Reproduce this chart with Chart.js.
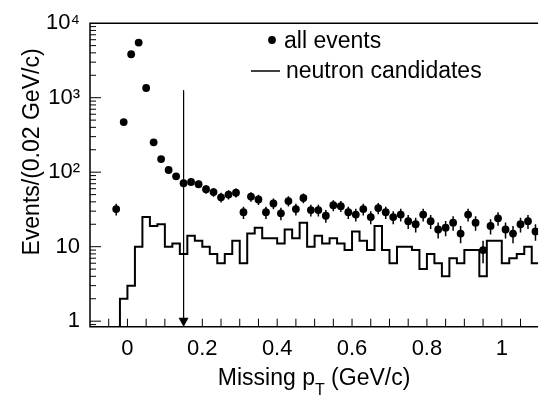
<!DOCTYPE html>
<html>
<head>
<meta charset="utf-8">
<script src="https://cdn.jsdelivr.net/npm/chart.js@4.4.0/dist/chart.umd.min.js"></script>
<style>
  html, body { margin: 0; padding: 0; background: #fff; overflow: hidden; }
</style>
</head>
<body>
<canvas id="chart" width="542" height="400"></canvas>
<script>
/* ----------- DATA ----------------------------------------------- */
// all events: bin centres (GeV/c), counts per 0.02 GeV/c, stat. errors
const binCentres = [-0.03, -0.01, 0.01, 0.03, 0.05, 0.07, 0.09, 0.11, 0.13, 0.15,
  0.17, 0.19, 0.21, 0.23, 0.25, 0.27, 0.29, 0.31, 0.33, 0.35,
  0.37, 0.39, 0.41, 0.43, 0.45, 0.47, 0.49, 0.51, 0.53, 0.55,
  0.57, 0.59, 0.61, 0.63, 0.65, 0.67, 0.69, 0.71, 0.73, 0.75,
  0.77, 0.79, 0.81, 0.83, 0.85, 0.87, 0.89, 0.91, 0.93, 0.95,
  0.97, 0.99, 1.01, 1.03, 1.05, 1.07, 1.09];
const allEvents = [32, 470, 3830, 5490, 1350, 252, 150, 107, 88, 71,
  74, 69, 59, 54, 46, 50, 53, 29, 47, 43,
  29, 38, 28, 41, 32, 45, 31, 31, 26, 36,
  35, 29, 27, 32, 25, 33, 29, 25, 27, 22,
  20, 27, 22, 17, 18, 21, 15, 27, 21, 9,
  19, 24, 17, 15, 20, 22, 16];
const allErrors = [5.7, 21.7, 61.9, 74.1, 36.7, 15.9, 12.2, 10.3, 9.4, 8.4,
  8.6, 8.3, 7.7, 7.3, 6.8, 7.1, 7.3, 5.4, 6.9, 6.6,
  5.4, 6.2, 5.3, 6.4, 5.7, 6.7, 5.6, 5.6, 5.1, 6.0,
  5.9, 5.4, 5.2, 5.7, 5.0, 5.7, 5.4, 5.0, 5.2, 4.7,
  4.5, 5.2, 4.7, 4.1, 4.2, 4.6, 3.9, 5.2, 4.6, 3.0,
  4.4, 4.9, 4.1, 3.9, 4.5, 4.7, 4.0];

// neutron candidates: histogram left bin edges and counts (last entry closes the final bin)
const binEdges = [-0.1, -0.02, 0.00, 0.02, 0.04, 0.06, 0.08, 0.10, 0.12, 0.14, 0.16,
  0.18, 0.20, 0.22, 0.24, 0.26, 0.28, 0.30, 0.32, 0.34, 0.36,
  0.38, 0.40, 0.42, 0.44, 0.46, 0.48, 0.50, 0.52, 0.54, 0.56,
  0.58, 0.60, 0.62, 0.64, 0.66, 0.68, 0.70, 0.72, 0.74, 0.76,
  0.78, 0.80, 0.82, 0.84, 0.86, 0.88, 0.90, 0.92, 0.94, 0.96,
  0.98, 1.00, 1.02, 1.04, 1.06, 1.08, 1.10];
const neutronCounts = [0.5, 2, 3, 10, 25, 19, 20, 10, 11, 8, 14,
  12, 10, 8, 6, 8, 12, 6, 15, 18, 13,
  13, 11, 17, 13, 21, 10, 14, 11, 13, 11,
  9, 16, 12, 9, 19, 9, 6, 10, 10, 9,
  5, 8, 6, 4, 7, 6, 9, 9, 4, 12,
  12, 6, 7, 8, 10, 6, 6];

// cut marker (arrow)
const cutX = 0.15;
const cutTop = 1250;

// axes
const xMin = -0.1, xMax = 1.097;
const yMin = 0.843, yMax = 10000;
const xTickValues = [0, 0.2, 0.4, 0.6, 0.8, 1];
const xTickLabels = ['0', '0.2', '0.4', '0.6', '0.8', '1'];
const yTickValues = [1, 10, 100, 1000, 10000];
const yTickLabels = ['1', '10', '10\u00B2', '10\u00B3', '10\u2074'];

const seriesLabels = ['all events', 'neutron candidates'];
const xTitle = ['Missing p', 'T', ' (GeV/c)'];
const yTitle = 'Events/(0.02 GeV/c)';

/* ----------- STYLE ---------------------------------------------- */
const FONT = '"Liberation Sans", Arial, Helvetica, sans-serif';
const INK = '#000';

/* ----------- PLUGIN : error bars, frame, ticks, legend, titles -- */
const decorations = {
  id: 'decorations',
  beforeDatasetsDraw(chart) {
    const { ctx, scales: { x, y } } = chart;
    const area = chart.chartArea;
    ctx.save();
    ctx.beginPath();
    ctx.rect(area.left, area.top, area.right - area.left, area.bottom - area.top);
    ctx.clip();
    ctx.strokeStyle = INK;
    ctx.lineWidth = 1.5;
    binCentres.forEach((c, i) => {
      const px = x.getPixelForValue(c);
      ctx.beginPath();
      ctx.moveTo(px, y.getPixelForValue(allEvents[i] + allErrors[i]));
      ctx.lineTo(px, y.getPixelForValue(Math.max(allEvents[i] - allErrors[i], yMin / 2)));
      ctx.stroke();
    });
    ctx.restore();
  },
  afterDraw(chart) {
    const { ctx, scales: { x, y } } = chart;
    const { left, right, top, bottom } = chart.chartArea;
    ctx.save();
    ctx.strokeStyle = INK;
    ctx.fillStyle = INK;

    // frame (top, left, bottom)
    ctx.lineWidth = 1.5;
    ctx.beginPath();
    ctx.moveTo(right, top); ctx.lineTo(left, top);
    ctx.lineTo(left, bottom); ctx.lineTo(right, bottom);
    ctx.stroke();

    // x ticks every 0.05, pointing inwards
    ctx.lineWidth = 1;
    for (let i = -1; i <= 21; i++) {
      const px = x.getPixelForValue(i * 0.05);
      if (px <= left + 1 || px > right) continue;
      ctx.beginPath();
      ctx.moveTo(px, bottom); ctx.lineTo(px, bottom - 8);
      ctx.stroke();
    }
    // y log ticks
    for (let d = -1; d <= 3; d++) {
      for (let m = 1; m <= 9; m++) {
        const v = m * Math.pow(10, d);
        if (v < yMin || v > yMax) continue;
        const py = y.getPixelForValue(v);
        ctx.beginPath();
        ctx.moveTo(left, py); ctx.lineTo(left + (m === 1 ? 11 : 6), py);
        ctx.stroke();
      }
    }

    // arrow head at the cut
    const ax = x.getPixelForValue(cutX);
    ctx.beginPath();
    ctx.moveTo(ax, bottom);
    ctx.lineTo(ax - 5, bottom - 9);
    ctx.lineTo(ax + 5, bottom - 9);
    ctx.closePath();
    ctx.fill();

    // legend
    ctx.font = '23px ' + FONT;
    ctx.textBaseline = 'alphabetic';
    ctx.textAlign = 'left';
    ctx.beginPath();
    ctx.arc(272, 40, 3.9, 0, Math.PI * 2);
    ctx.fill();
    ctx.fillText(seriesLabels[0], 284, 48);
    ctx.lineWidth = 1.5;
    ctx.beginPath();
    ctx.moveTo(251, 71); ctx.lineTo(280, 71);
    ctx.stroke();
    ctx.fillText(seriesLabels[1], 286, 78);

    // x title with subscript
    const big = '23px ' + FONT, small = '16px ' + FONT;
    ctx.font = big;
    const w0 = ctx.measureText(xTitle[0]).width;
    const w2 = ctx.measureText(xTitle[2]).width;
    ctx.font = small;
    const w1 = ctx.measureText(xTitle[1]).width;
    let tx = (left + right) / 2 - (w0 + w1 + w2) / 2;
    const ty = 385;
    ctx.font = big;
    ctx.fillText(xTitle[0], tx, ty);
    tx += w0;
    ctx.font = small;
    ctx.fillText(xTitle[1], tx, ty + 10);
    tx += w1;
    ctx.font = big;
    ctx.fillText(xTitle[2], tx, ty);

    // y title
    ctx.translate(38.5, 152);
    ctx.rotate(-Math.PI / 2);
    ctx.textAlign = 'center';
    ctx.fillText(yTitle, 0, 0);
    ctx.restore();
  }
};

/* ----------- CHART INIT ----------------------------------------- */
const ctx = document.getElementById('chart').getContext('2d');

const chart = new Chart(ctx, {
  type: 'line',
  data: {
    datasets: [{
      label: seriesLabels[0],
      data: binCentres.map((c, i) => ({ x: c, y: allEvents[i] })),
      showLine: false,
      pointRadius: 3.9,
      pointHoverRadius: 3.9,
      pointBackgroundColor: INK,
      pointBorderWidth: 0
    }, {
      label: seriesLabels[1],
      data: binEdges.map((e, i) => ({ x: e, y: neutronCounts[i] })),
      stepped: true,
      borderColor: INK,
      borderWidth: 2,
      pointRadius: 0,
      fill: false
    }, {
      label: 'cut',
      data: [{ x: cutX, y: cutTop }, { x: cutX, y: yMin }],
      borderColor: INK,
      borderWidth: 1,
      pointRadius: 0,
      fill: false
    }]
  },
  options: {
    responsive: false,
    animation: false,
    devicePixelRatio: 1,
    layout: { padding: { top: 13.5, right: 0, left: 0, bottom: 0 } },
    plugins: {
      legend: { display: false },
      tooltip: { enabled: false }
    },
    scales: {
      x: {
        type: 'linear',
        min: xMin,
        max: xMax,
        afterBuildTicks: s => { s.ticks = xTickValues.map(v => ({ value: v })); },
        afterFit: s => { s.height = 73.3; },
        grid: { display: false, drawTicks: false },
        border: { display: false },
        ticks: {
          color: INK,
          font: { family: FONT, size: 22 },
          padding: 9,
          maxRotation: 0,
          autoSkip: false,
          callback: (v, i) => xTickLabels[i]
        }
      },
      y: {
        type: 'logarithmic',
        min: yMin,
        max: yMax,
        afterBuildTicks: s => { s.ticks = yTickValues.map(v => ({ value: v })); },
        afterFit: s => { s.width = 90; },
        grid: { display: false, drawTicks: false },
        border: { display: false },
        ticks: {
          color: INK,
          font: { family: FONT, size: 22 },
          padding: 10,
          autoSkip: false,
          callback: (v, i) => yTickLabels[i]
        }
      }
    }
  },
  plugins: [decorations]
});
/* ----------- CHART INIT ----------------------------------------- */
</script>
</body>
</html>
